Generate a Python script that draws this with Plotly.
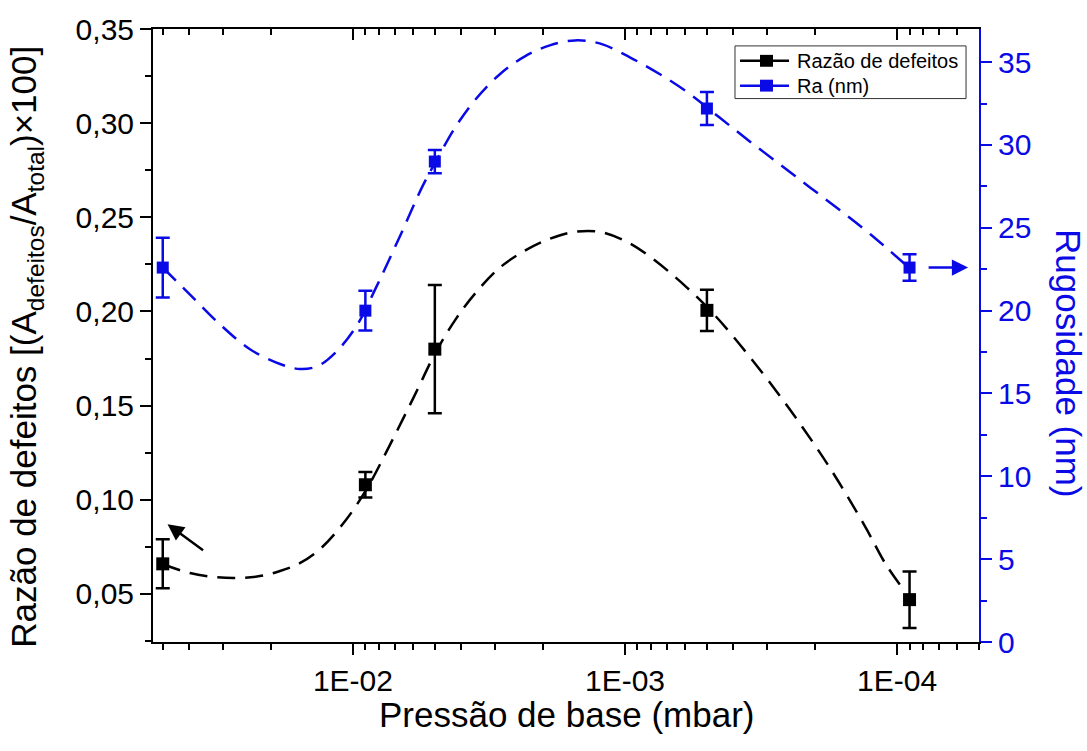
import numpy as np
import plotly.graph_objects as go

# Measured samples (base pressure in mbar)
pressure = [5e-2, 9e-3, 5e-3, 5e-4, 9e-5]
defect_ratio = [0.066, 0.108, 0.180, 0.2006, 0.047]
defect_err = [0.013, 0.0068, 0.034, 0.011, 0.015]
ra_nm = [22.6, 20.0, 29.0, 32.2, 22.6]
ra_err = [1.8, 1.2, 0.7, 1.0, 0.8]

# Smoothed guide curves through the measurements
defect_fit_x = [0.0499, 0.0397, 0.0321, 0.0267, 0.0220, 0.01853, 0.01567, 0.01322,
                0.01070, 0.00888, 0.00731, 0.00592, 0.00496, 0.004217, 0.003559,
                0.002884, 0.002334, 0.00189, 0.00153, 0.00124, 0.001, 0.000809,
                0.000592, 0.000467, 0.000347, 0.000247, 0.000176, 0.0001312,
                0.0001107, 0.0000975]
defect_fit_y = [0.0658, 0.0611, 0.0590, 0.0585, 0.0595, 0.0622, 0.0664, 0.0738,
                0.0886, 0.1060, 0.1292, 0.1557, 0.1784, 0.1953, 0.2095,
                0.2233, 0.2323, 0.2386, 0.2423, 0.2423, 0.2375, 0.2291,
                0.2127, 0.1979, 0.1757, 0.1477, 0.1166, 0.0859,
                0.0664, 0.0548]

ra_fit_x = [0.0499, 0.0397, 0.0308, 0.0239, 0.01853, 0.01567, 0.01345, 0.01145,
            0.00967, 0.00816, 0.00671, 0.00553, 0.00496, 0.004217, 0.003559,
            0.002884, 0.002334, 0.00189, 0.00153, 0.00124, 0.00096, 0.000744,
            0.000577, 0.000448, 0.000347, 0.000269, 0.000209, 0.000162,
            0.0001257, 0.0000904]
ra_fit_y = [22.59, 20.97, 19.17, 17.67, 16.78, 16.48, 16.66, 17.56,
            19.11, 21.51, 24.51, 27.56, 29.00, 31.04, 32.71,
            34.27, 35.35, 36.01, 36.31, 36.13, 35.29, 34.27,
            33.07, 31.64, 30.20, 28.82, 27.44, 26.06,
            24.63, 22.59]

series_names = ["Razão de defeitos", "Ra (nm)"]

x_ticks = [1e-2, 1e-3, 1e-4]
x_ticktext = ["1E-02", "1E-03", "1E-04"]

BLUE = "#0a0ae6"
FONT = "Liberation Sans, Arial, sans-serif"

x_range = [np.log10(0.0543), np.log10(5e-5)]
x_minor = [m * 10.0 ** e for e in range(-2, -6, -1) for m in range(2, 10)
           if 5e-5 <= m * 10.0 ** e <= 0.0543]

fig = go.Figure()

fig.add_trace(go.Scatter(
    x=defect_fit_x, y=defect_fit_y, mode="lines", showlegend=False,
    line=dict(color="black", width=2.5, dash="18px,10px", shape="spline", smoothing=1.0),
    hoverinfo="skip"))
fig.add_trace(go.Scatter(
    x=ra_fit_x, y=ra_fit_y, mode="lines", yaxis="y2", showlegend=False,
    line=dict(color=BLUE, width=2.5, dash="18px,10px", shape="spline", smoothing=1.0),
    hoverinfo="skip"))

fig.add_trace(go.Scatter(
    x=pressure, y=defect_ratio, mode="markers", name=series_names[0], showlegend=False,
    marker=dict(symbol="square", size=13, color="black"),
    error_y=dict(type="data", array=defect_err, visible=True, color="black",
                 thickness=2.5, width=7)))
fig.add_trace(go.Scatter(
    x=pressure, y=ra_nm, mode="markers", yaxis="y2", name=series_names[1], showlegend=False,
    marker=dict(symbol="square", size=12, color=BLUE),
    error_y=dict(type="data", array=ra_err, visible=True, color=BLUE,
                 thickness=2.5, width=7)))

# Empty trace bound to the mirrored top axis so the frame is drawn
fig.add_trace(go.Scatter(x=[], y=[], xaxis="x2", showlegend=False, hoverinfo="skip"))

axis_font = dict(family=FONT, size=30, color="black")

# Boxed legend in the upper right corner of the plot area
legend_shapes = [
    dict(type="rect", xref="paper", yref="paper", x0=0.7046, x1=0.9843,
         y0=0.8865, y1=0.9724, line=dict(color="#333333", width=1), fillcolor="white",
         layer="above"),
]
legend_notes = []
for row_y, color, name in [(0.9481, "black", series_names[0]), (0.9076, BLUE, series_names[1])]:
    legend_shapes.append(dict(type="line", xref="paper", yref="paper",
                              x0=0.7107, x1=0.770, y0=row_y, y1=row_y,
                              line=dict(color=color, width=2.5), layer="above"))
    legend_shapes.append(dict(type="rect", xref="paper", yref="paper",
                              x0=0.7349, x1=0.7506, y0=row_y - 0.0097, y1=row_y + 0.0097,
                              line=dict(color=color, width=0), fillcolor=color, layer="above"))
    legend_notes.append(dict(text=name, xref="paper", yref="paper", x=0.7772, y=row_y,
                             xanchor="left", yanchor="middle", showarrow=False,
                             font=dict(family=FONT, size=20, color="black")))

fig.update_layout(
    width=1087, height=751,
    margin=dict(l=153, r=108, t=25, b=109),
    paper_bgcolor="white", plot_bgcolor="white",
    separators=", ",
    showlegend=False,
    font=dict(family=FONT, color="black"),
    xaxis=dict(
        type="log", range=x_range, tickvals=x_ticks, ticktext=x_ticktext,
        ticks="outside", ticklen=11, tickwidth=2, tickcolor="black",
        showline=True, linewidth=2, linecolor="black", showgrid=False, zeroline=False,
        tickfont=axis_font,
        minor=dict(tickvals=x_minor, ticks="outside", ticklen=6, tickwidth=2,
                   tickcolor="black", showgrid=False)),
    xaxis2=dict(
        type="log", range=x_range, overlaying="x", side="top", anchor="y",
        tickvals=x_ticks, showticklabels=False,
        ticks="inside", ticklen=11, tickwidth=2, tickcolor="black",
        showline=True, linewidth=2, linecolor="black", showgrid=False, zeroline=False,
        minor=dict(tickvals=x_minor, ticks="inside", ticklen=6, tickwidth=2,
                   tickcolor="black", showgrid=False)),
    yaxis=dict(
        range=[0.0245, 0.35], tick0=0, dtick=0.05, tickformat=".2f",
        ticks="outside", ticklen=11, tickwidth=2, tickcolor="black",
        showline=True, linewidth=2, linecolor="black", showgrid=False, zeroline=False,
        tickfont=axis_font,
        minor=dict(tick0=0, dtick=0.025, ticks="outside", ticklen=6, tickwidth=2,
                   tickcolor="black", showgrid=False)),
    yaxis2=dict(
        range=[0, 37], tick0=0, dtick=5, overlaying="y", side="right", anchor="x",
        ticks="outside", ticklen=11, tickwidth=2, tickcolor=BLUE,
        showline=True, linewidth=2, linecolor=BLUE, showgrid=False, zeroline=False,
        tickfont=dict(family=FONT, size=30, color=BLUE),
        minor=dict(tick0=0, dtick=2.5, ticks="outside", ticklen=6, tickwidth=2,
                   tickcolor=BLUE, showgrid=False)),
    shapes=legend_shapes,
    annotations=legend_notes + [
        dict(text="Pressão de base (mbar)", xref="paper", yref="paper",
             x=0.5, y=-0.118, xanchor="center", yanchor="middle", showarrow=False,
             font=dict(family=FONT, size=35, color="black")),
        dict(text="Razão de defeitos [(A<sub>defeitos</sub>/A<sub>total</sub>)×100]",
             xref="paper", yref="paper", x=-0.153, y=0.481, textangle=-90,
             xanchor="center", yanchor="middle", showarrow=False,
             font=dict(family=FONT, size=35, color="black")),
        dict(text="Rugosidade (nm)", xref="paper", yref="paper",
             x=1.109, y=0.455, textangle=90, xanchor="center", yanchor="middle",
             showarrow=False, font=dict(family=FONT, size=35, color=BLUE)),
        dict(x=np.log10(0.048), y=0.087, xref="x", yref="y", text="",
             showarrow=True, arrowhead=2, arrowsize=1.3, arrowwidth=2.5,
             arrowcolor="black", ax=37, ay=27),
        dict(x=-4.261, y=22.6, xref="x", yref="y2", text="",
             showarrow=True, arrowhead=2, arrowsize=1.3, arrowwidth=2.5,
             arrowcolor=BLUE, ax=-41, ay=0),
    ],
)

fig.write_html("out.html")
